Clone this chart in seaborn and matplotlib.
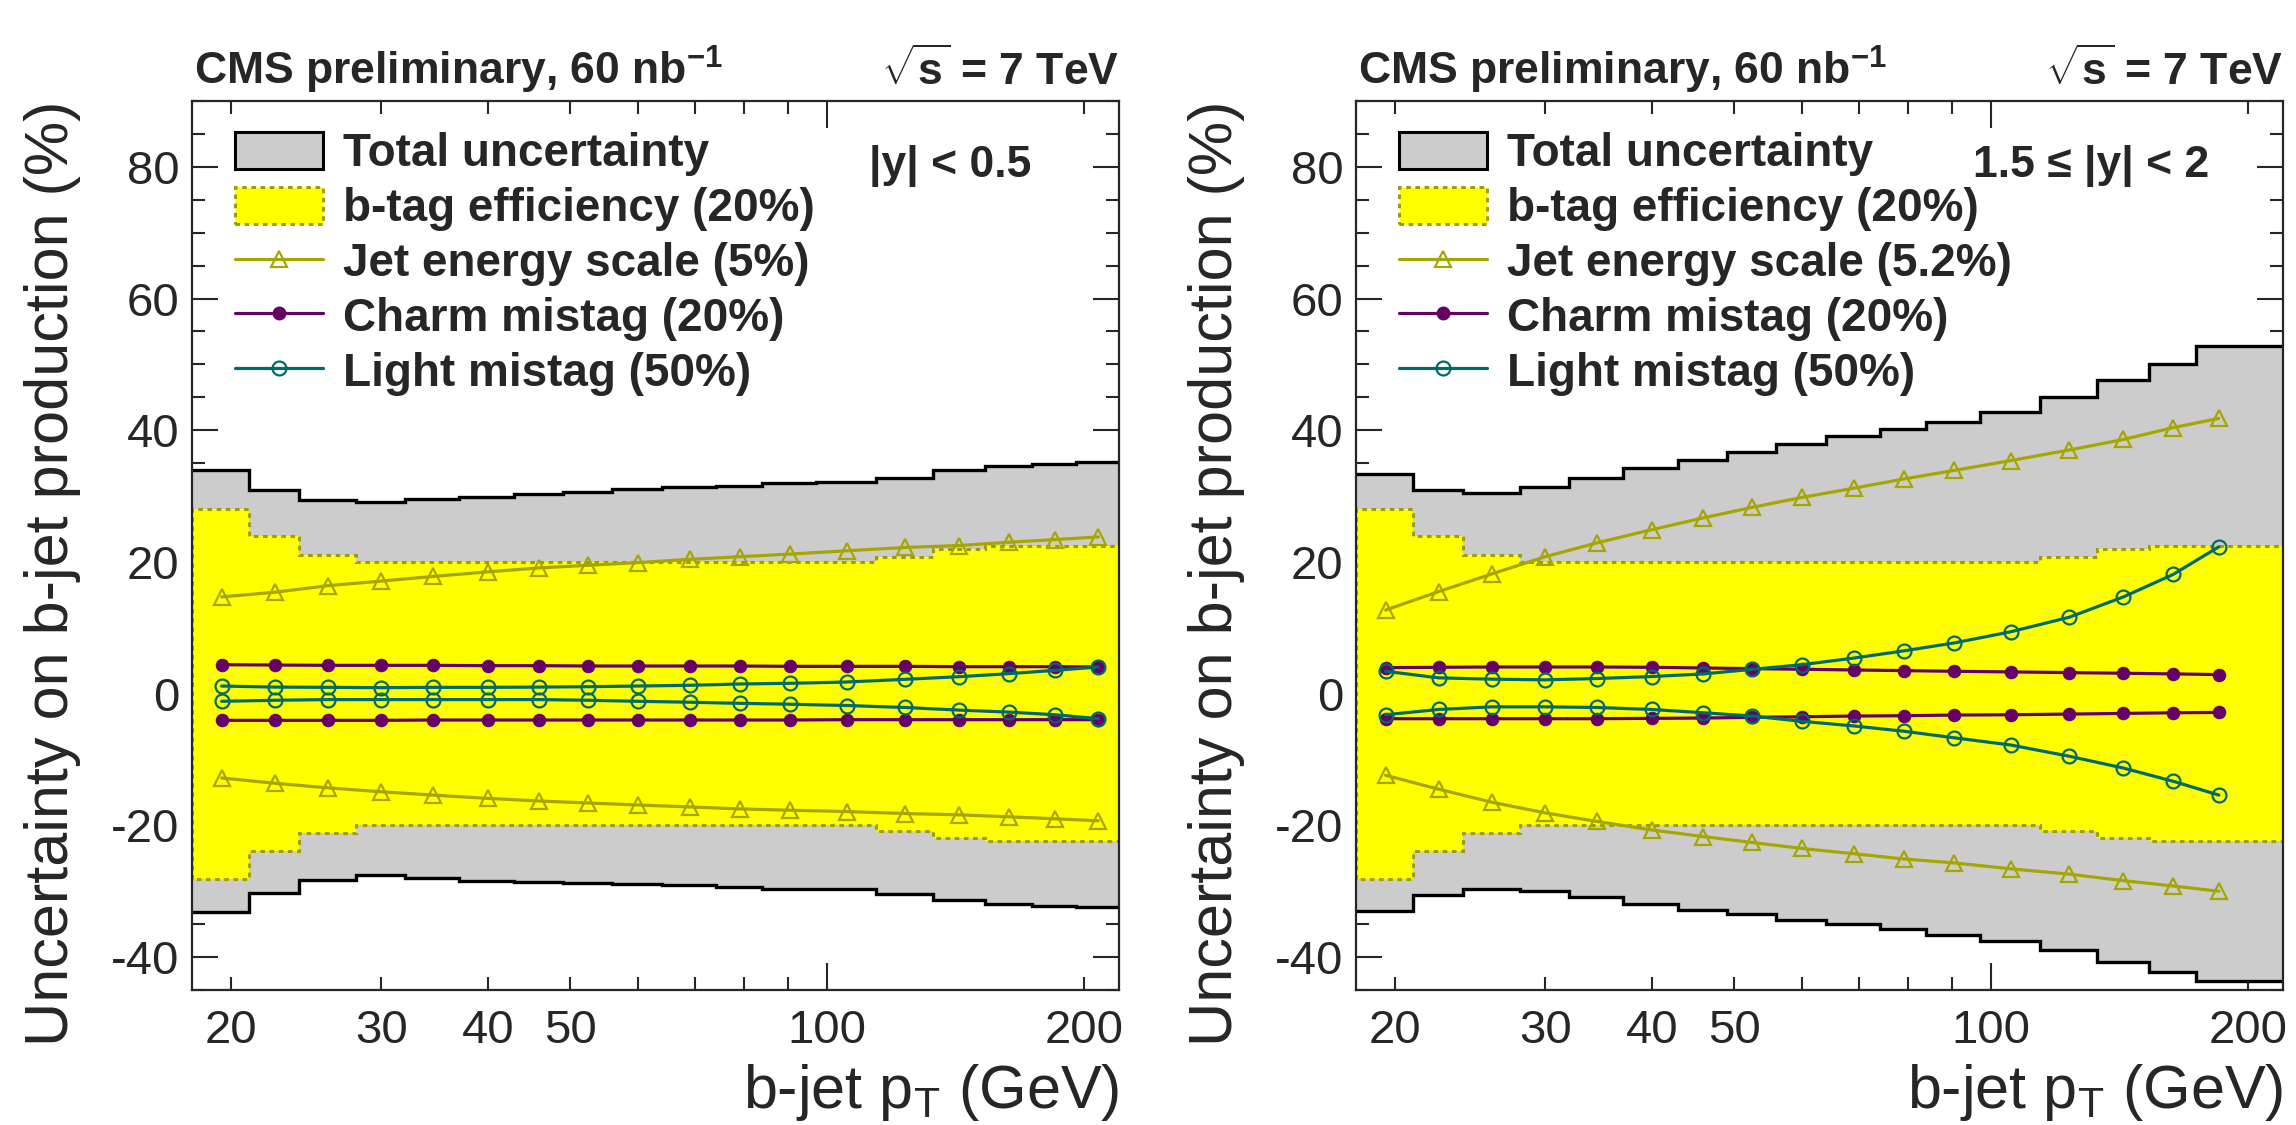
import numpy as np
import matplotlib
matplotlib.use("Agg")
import matplotlib.pyplot as plt
import seaborn as sns
from matplotlib.ticker import FixedLocator, FixedFormatter, MultipleLocator, FuncFormatter
from matplotlib.patches import Patch
from matplotlib.lines import Line2D
from matplotlib.font_manager import FontProperties

# ---------------- data ----------------
edges_L = [18, 21, 24, 28, 32, 37, 43, 49, 56, 64, 74, 84, 97, 114, 133, 153, 174, 196, 220]
edges_R = [18, 21, 24, 28, 32, 37, 43, 49, 56, 64, 74, 84, 97, 114, 133, 153, 174, 220]
pt_L = [19.5, 22.5, 26, 30, 34.5, 40, 46, 52.5, 60, 69, 79, 90.5, 105.5, 123.5, 143, 163.5, 185, 208]
pt_R = [19.5, 22.5, 26, 30, 34.5, 40, 46, 52.5, 60, 69, 79, 90.5, 105.5, 123.5, 143, 163.5, 185]

tot_up_L = [33.9, 31.0, 29.4, 29.1, 29.5, 29.9, 30.3, 30.7, 31.1, 31.4, 31.6, 32.0, 32.2, 32.8, 33.9, 34.5, 34.9, 35.2]
tot_lo_L = [-33.1, -30.2, -28.3, -27.6, -28.0, -28.4, -28.6, -28.8, -28.9, -29.1, -29.4, -29.6, -29.7, -30.4, -31.4, -31.9, -32.2, -32.4]
btag_L = [28.1, 23.9, 21.1, 20.0, 20.0, 20.0, 20.0, 20.0, 20.0, 20.0, 20.0, 20.0, 20.0, 20.8, 21.9, 22.4, 22.4, 22.4]
jes_up_L = [14.7, 15.4, 16.4, 17.1, 17.8, 18.5, 19.1, 19.5, 19.9, 20.4, 20.8, 21.2, 21.7, 22.2, 22.5, 23.0, 23.4, 23.8]
jes_lo_L = [-12.8, -13.6, -14.3, -14.9, -15.4, -15.9, -16.3, -16.6, -16.9, -17.2, -17.5, -17.7, -17.9, -18.2, -18.4, -18.7, -19.0, -19.3]
charm_up_L = [4.4, 4.35, 4.3, 4.3, 4.3, 4.25, 4.25, 4.2, 4.2, 4.2, 4.2, 4.15, 4.15, 4.15, 4.1, 4.1, 4.1, 4.05]
charm_lo_L = [-4.05, -4.05, -4.05, -4.05, -4.0, -4.0, -4.0, -4.0, -4.0, -4.0, -4.0, -4.0, -3.95, -3.95, -3.95, -3.95, -3.95, -3.95]
light_up_L = [1.16, 1.0, 0.96, 0.91, 0.96, 0.96, 1.0, 1.06, 1.16, 1.27, 1.47, 1.57, 1.77, 2.18, 2.58, 3.04, 3.54, 4.05]
light_lo_L = [-1.16, -1.0, -0.9, -0.9, -0.9, -0.9, -0.9, -1.0, -1.16, -1.3, -1.47, -1.6, -1.8, -2.1, -2.5, -2.8, -3.2, -3.8]

tot_up_R = [33.3, 31.0, 30.5, 31.4, 32.8, 34.2, 35.5, 36.7, 37.9, 39.1, 40.2, 41.3, 42.7, 45.0, 47.6, 50.0, 52.8]
tot_lo_R = [-33.0, -30.6, -29.6, -29.9, -30.9, -31.9, -32.8, -33.5, -34.3, -35.0, -35.8, -36.6, -37.5, -38.9, -40.8, -42.3, -43.7]
btag_R = [28.1, 23.9, 21.1, 20.0, 20.0, 20.0, 20.0, 20.0, 20.0, 20.0, 20.0, 20.0, 20.0, 20.8, 21.9, 22.4, 22.4]
jes_up_R = [12.7, 15.5, 18.2, 20.8, 22.9, 24.9, 26.7, 28.3, 29.8, 31.2, 32.6, 33.9, 35.4, 37.0, 38.6, 40.4, 41.8]
jes_lo_R = [-12.4, -14.5, -16.5, -18.1, -19.4, -20.7, -21.7, -22.6, -23.5, -24.3, -25.1, -25.7, -26.6, -27.4, -28.4, -29.2, -30.0]
charm_up_R = [3.95, 4.0, 4.05, 4.05, 4.05, 4.0, 3.9, 3.8, 3.7, 3.6, 3.5, 3.4, 3.3, 3.2, 3.1, 3.0, 2.9]
charm_lo_R = [-3.8, -3.8, -3.8, -3.8, -3.8, -3.75, -3.7, -3.6, -3.5, -3.4, -3.35, -3.25, -3.2, -3.1, -3.0, -2.9, -2.85]
light_up_R = [3.4, 2.4, 2.2, 2.1, 2.3, 2.6, 3.0, 3.7, 4.4, 5.4, 6.5, 7.7, 9.4, 11.6, 14.7, 18.1, 22.3]
light_lo_R = [-3.2, -2.4, -2.0, -2.0, -2.1, -2.4, -2.9, -3.4, -4.2, -4.9, -5.7, -6.7, -7.8, -9.5, -11.3, -13.3, -15.4]

x_major = [100]
x_minor = [20, 30, 40, 50, 60, 70, 80, 90, 200]
x_minor_labels = ['20', '30', '40', '50', '', '', '', '', '200']

legend_labels_L = ["Total uncertainty", "b-tag efficiency (20%)", "Jet energy scale (5%)",
                   "Charm mistag (20%)", "Light mistag (50%)"]
legend_labels_R = ["Total uncertainty", "b-tag efficiency (20%)", "Jet energy scale (5.2%)",
                   "Charm mistag (20%)", "Light mistag (50%)"]
region_L = "|y| < 0.5"
region_R = "1.5 \u2264 |y| < 2"

# ---------------- style ----------------
sns.set_style("ticks")
plt.rcParams['font.family'] = ['Liberation Sans', 'DejaVu Sans']
plt.rcParams['mathtext.fontset'] = 'custom'
plt.rcParams['mathtext.rm'] = 'Liberation Sans'
plt.rcParams['mathtext.bf'] = 'Liberation Sans:bold'
plt.rcParams['mathtext.it'] = 'Liberation Sans:italic'

GREY = '#cccccc'
YELLOW = '#ffff00'
BTAG_EDGE = '#9e9e00'
JES_C = '#a6a600'
CHARM_C = '#660066'
LIGHT_C = '#006a6a'

W, H = 2296, 1125
fig = plt.figure(figsize=(W / 100, H / 100), dpi=100)
axL = fig.add_axes([192 / W, 1 - 990 / H, 927 / W, 889 / H])
axR = fig.add_axes([1356 / W, 1 - 990 / H, 927 / W, 889 / H])

LBL = 44
TICK = 34
TXT = 32


def draw(ax, edges, pt, tot_up, tot_lo, btag, jes_up, jes_lo, ch_up, ch_lo, li_up, li_lo,
         labels, region, region_x):
    ax.set_xscale('log')
    ax.stairs(tot_up, edges, baseline=tot_lo, fill=True, facecolor=GREY, edgecolor='none', zorder=1)
    btag_a = np.asarray(btag)
    ax.stairs(btag_a, edges, baseline=-btag_a, fill=True, facecolor=YELLOW, edgecolor='none', zorder=2)
    ax.stairs(btag_a, edges, baseline=-btag_a, fill=False, edgecolor=BTAG_EDGE,
              linestyle=(0, (1.5, 1.5)), linewidth=2.2, zorder=2.5)
    ax.stairs(tot_up, edges, baseline=None, color='black', linewidth=2.4, zorder=3)
    ax.stairs(tot_lo, edges, baseline=None, color='black', linewidth=2.4, zorder=3)

    for ys in (jes_up, jes_lo):
        sns.lineplot(x=pt, y=ys, ax=ax, color=JES_C, linewidth=2.3, marker='^', markersize=11,
                     markerfacecolor='none', markeredgecolor=JES_C, markeredgewidth=1.6,
                     sort=False, estimator=None, zorder=4)
    for ys in (ch_up, ch_lo):
        sns.lineplot(x=pt, y=ys, ax=ax, color=CHARM_C, linewidth=2.3, marker='o', markersize=9,
                     markerfacecolor=CHARM_C, markeredgecolor=CHARM_C,
                     sort=False, estimator=None, zorder=5)
    for ys in (li_up, li_lo):
        sns.lineplot(x=pt, y=ys, ax=ax, color=LIGHT_C, linewidth=2.3, marker='o', markersize=10,
                     markerfacecolor='none', markeredgecolor=LIGHT_C, markeredgewidth=1.6,
                     sort=False, estimator=None, zorder=6)

    ax.set_xlim(18, 220)
    ax.set_ylim(-45, 90)
    ax.xaxis.set_major_locator(FixedLocator(x_major))
    ax.xaxis.set_major_formatter(FixedFormatter(['100']))
    ax.xaxis.set_minor_locator(FixedLocator(x_minor))
    ax.xaxis.set_minor_formatter(FixedFormatter(x_minor_labels))
    ax.yaxis.set_major_locator(MultipleLocator(20))
    ax.yaxis.set_minor_locator(MultipleLocator(5))
    ax.yaxis.set_major_formatter(FuncFormatter(lambda v, p: "%d" % round(v)))
    ax.tick_params(axis='x', which='major', direction='in', length=19.5, width=1.5,
                   top=True, bottom=True, labelsize=TICK, pad=14)
    ax.tick_params(axis='x', which='minor', direction='in', length=9.4, width=1.5,
                   top=True, bottom=True, labelsize=TICK, pad=14)
    ax.tick_params(axis='y', which='major', direction='in', length=18.7, width=1.5,
                   left=True, right=True, labelsize=TICK, pad=9)
    ax.tick_params(axis='y', which='minor', direction='in', length=9.4, width=1.5,
                   left=True, right=True)
    for s in ax.spines.values():
        s.set_linewidth(1.6)
        s.set_zorder(10)

    ax.set_ylabel("Uncertainty on b-jet production (%)", fontsize=LBL, loc='top')
    ax.yaxis.set_label_coords(-0.12, 1.0)
    ax.set_xlabel(r"b-jet p$_{\mathrm{T}}$ (GeV)", fontsize=LBL, loc='right')
    ax.xaxis.set_label_coords(1.0, -0.081)

    ax.text(0.002, 1.018, r"CMS preliminary, 60 nb$^{\mathbf{-1}}$", transform=ax.transAxes,
            fontsize=TXT, fontweight='bold', ha='left', va='baseline')
    ax.text(1.0, 1.018, r"$\sqrt{\mathbf{s}}$ = 7 TeV", transform=ax.transAxes,
            fontsize=TXT, fontweight='bold', ha='right', va='baseline')
    ax.text(region_x, 0.914, region, transform=ax.transAxes,
            fontsize=TXT, fontweight='bold', ha='left', va='baseline')

    handles = [
        Patch(facecolor=GREY, edgecolor='black', linewidth=2.2),
        Patch(facecolor=YELLOW, edgecolor=BTAG_EDGE, linewidth=2.2, linestyle=(0, (1.5, 1.5))),
        Line2D([], [], color=JES_C, lw=2.3, marker='^', ms=11, mfc='none', mec=JES_C, mew=1.6),
        Line2D([], [], color=CHARM_C, lw=2.3, marker='o', ms=9, mfc=CHARM_C, mec=CHARM_C),
        Line2D([], [], color=LIGHT_C, lw=2.3, marker='o', ms=10, mfc='none', mec=LIGHT_C, mew=1.6),
    ]
    ax.legend(handles, labels, loc='upper left', bbox_to_anchor=(0.0464, 0.9655),
              frameon=False, borderpad=0, borderaxespad=0, handlelength=1.92,
              handleheight=0.87, handletextpad=0.44, labelspacing=0.228, numpoints=1,
              prop=FontProperties(family='Liberation Sans', weight='bold', size=33))


draw(axL, edges_L, pt_L, tot_up_L, tot_lo_L, btag_L, jes_up_L, jes_lo_L, charm_up_L, charm_lo_L,
     light_up_L, light_lo_L, legend_labels_L, region_L, 0.730)
draw(axR, edges_R, pt_R, tot_up_R, tot_lo_R, btag_R, jes_up_R, jes_lo_R, charm_up_R, charm_lo_R,
     light_up_R, light_lo_R, legend_labels_R, region_R, 0.6656)

fig.savefig("out.png", dpi=100)
